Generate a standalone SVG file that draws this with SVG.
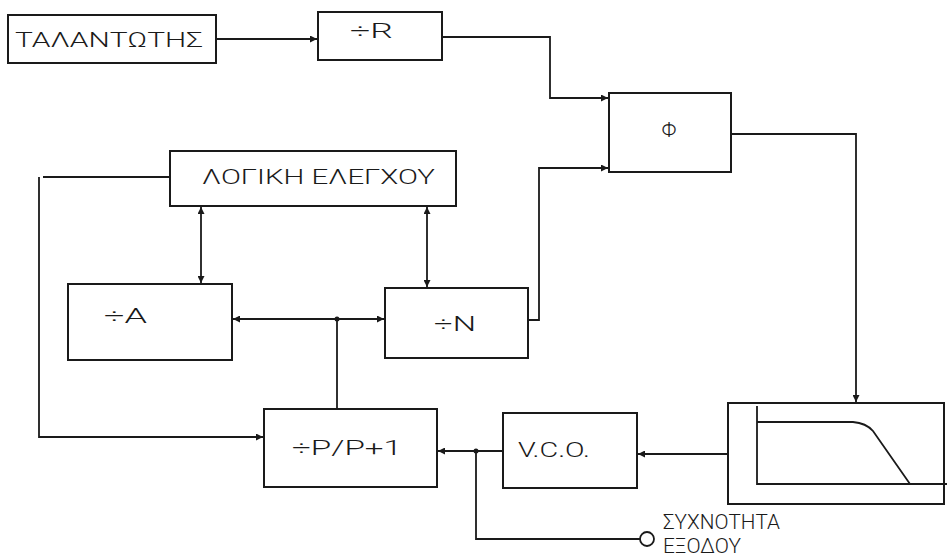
<svg xmlns="http://www.w3.org/2000/svg" width="947" height="559" viewBox="0 0 947 559">
<style>
.box{fill:none;stroke:#1a1a1a;stroke-width:2}
.ln{fill:none;stroke:#1a1a1a;stroke-width:1.8}
.t{font-family:Roboto,"Liberation Sans",Arial,sans-serif;font-weight:300;fill:#1a1a1a;font-size:21px}
</style>
<defs>
<marker id="ah" viewBox="0 0 8 8" refX="8" refY="4" markerWidth="7" markerHeight="7" markerUnits="userSpaceOnUse" orient="auto-start-reverse">
<path d="M0,0 L8,4 L0,8 z" fill="#1a1a1a"/>
</marker>
</defs>
<rect width="947" height="559" fill="#fff"/>
<g id="osc"><rect class="box" x="8" y="15" width="208" height="48"/><text class="t" x="15" y="47" textLength="188" lengthAdjust="spacingAndGlyphs">ΤΑΛΑΝΤΩΤΗΣ</text></g>
<g id="divR"><rect class="box" x="318" y="12" width="124" height="48"/><text class="t" x="350" y="38" textLength="43" lengthAdjust="spacingAndGlyphs">÷R</text></g>
<g id="phi"><rect class="box" x="609" y="93" width="122" height="79"/><text class="t" x="669" y="137" text-anchor="middle" font-size="18">Φ</text></g>
<g id="logic"><rect class="box" x="170" y="151" width="286" height="55"/><text class="t" x="202" y="184" textLength="233" lengthAdjust="spacingAndGlyphs">ΛΟΓΙΚΗ ΕΛΕΓΧΟΥ</text></g>
<g id="divA"><rect class="box" x="68" y="284" width="164" height="76"/><text class="t" x="104" y="323" textLength="43" lengthAdjust="spacingAndGlyphs">÷A</text></g>
<g id="divN"><rect class="box" x="385" y="288" width="143" height="70"/><text class="t" x="434" y="331" textLength="42" lengthAdjust="spacingAndGlyphs">÷N</text></g>
<g id="divP"><rect class="box" x="264" y="409" width="173" height="78"/><text class="t" x="292" y="455" textLength="110" lengthAdjust="spacingAndGlyphs">÷P/P+1</text></g>
<g id="vco"><rect class="box" x="503" y="413" width="134" height="75"/><text class="t" x="518" y="457" textLength="72" lengthAdjust="spacingAndGlyphs">V.C.O.</text></g>
<g id="filter"><rect class="box" x="728" y="403" width="216" height="101"/><path class="ln" d="M757,406 V484 H947 M757,422 H853 Q866,423 873,431 L910,484"/></g>
<g id="out"><circle cx="647" cy="539" r="7" fill="#fff" stroke="#1a1a1a" stroke-width="1.8"/><text class="t" x="663" y="529" textLength="117" lengthAdjust="spacingAndGlyphs">ΣΥΧΝΟΤΗΤΑ</text><text class="t" x="663" y="553" font-size="19" textLength="78" lengthAdjust="spacingAndGlyphs">ΕΞΟΔΟΥ</text></g>
<g id="connectors">
<path class="ln" d="M216,39 H317" marker-end="url(#ah)"/>
<path class="ln" d="M442,37 H550 V98 H608" marker-end="url(#ah)"/>
<path class="ln" d="M528,320 H539 V168 H608" marker-end="url(#ah)"/>
<path class="ln" d="M731,134 H856 V402" marker-end="url(#ah)"/>
<path class="ln" d="M728,454 H638" marker-end="url(#ah)"/>
<path class="ln" d="M503,451 H438" marker-end="url(#ah)"/>
<path class="ln" d="M476,451 V539 H640"/>
<circle cx="476" cy="451" r="2.5" fill="#1a1a1a"/>
<path class="ln" d="M337,409 V319"/>
<circle cx="337" cy="319" r="2.5" fill="#1a1a1a"/>
<path class="ln" d="M337,319 H233" marker-end="url(#ah)"/>
<path class="ln" d="M337,319 H384" marker-end="url(#ah)"/>
<path class="ln" d="M201,207 V283" marker-start="url(#ah)" marker-end="url(#ah)"/>
<path class="ln" d="M427,207 V287" marker-start="url(#ah)" marker-end="url(#ah)"/>
<path class="ln" d="M170,177 H43"/>
<path class="ln" d="M39,177 V437 H263" marker-end="url(#ah)"/>
</g>
</svg>
